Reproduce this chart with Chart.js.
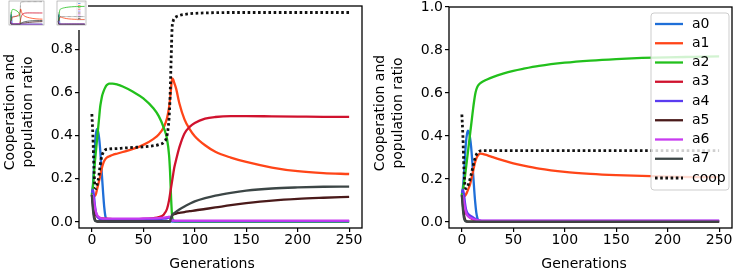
<!DOCTYPE html>
<html><head><meta charset="utf-8">
<script src="https://cdn.jsdelivr.net/npm/chart.js@4"></script>
<style>
html,body{margin:0;padding:0;background:#fff}
body{width:738px;height:272px;position:relative;overflow:hidden}
canvas{position:absolute;top:0}
#c1{left:0}
#c2{left:370px}
#t1{left:0;top:0;background:#fff}
#t2{left:50px;top:0;background:#fff}
</style></head><body>
<canvas id="c1" width="370" height="272"></canvas>
<canvas id="c2" width="368" height="272"></canvas>
<canvas id="t1" width="49" height="30"></canvas>
<canvas id="t2" width="38" height="30"></canvas>
<script>
const names = ['a0','a1','a2','a3','a4','a5','a6','a7','coop'];
const colors = ['#1f6fd8','#ff4518','#22c01c','#d0122e','#5a3cf0','#4a1a1a','#c83cf0','#3c4646','#111111'];
const xTicks = [0,50,100,150,200,250];
const yTicks = [0.0,0.2,0.4,0.6,0.8,1.0];
const xLabel = 'Generations';
const yLabel = ['Cooperation and','population ratio'];

// Left panel
const genL = [0,1,2,3,4,5,6,7,8,9,10,11,12,13,14,15,17,20,25,30,40,50,60,65,70,73,75,76,77,78,79,80,82,85,90,95,100,110,120,135,150,175,200,225,250];
const a0L = [0.125,0.17,0.25,0.35,0.41,0.43,0.42,0.39,0.34,0.27,0.20,0.13,0.07,0.03,0.01,0.004,0.003,0.003,0.003,0.003,0.003,0.003,0.003,0.003,0.003,0.003,0.003,0.003,0.003,0.002,0.002,0.002,0.002,0.002,0.002,0.002,0.002,0.002,0.002,0.002,0.002,0.002,0.002,0.002,0.002];
const a1L = [0.125,0.122,0.12,0.12,0.13,0.15,0.17,0.19,0.21,0.235,0.255,0.27,0.282,0.29,0.296,0.30,0.304,0.31,0.317,0.324,0.338,0.357,0.385,0.405,0.44,0.48,0.53,0.57,0.62,0.665,0.66,0.645,0.615,0.55,0.475,0.43,0.397,0.355,0.325,0.298,0.278,0.252,0.235,0.226,0.222];
const a2L = [0.125,0.16,0.22,0.28,0.33,0.38,0.43,0.48,0.53,0.56,0.585,0.60,0.613,0.623,0.631,0.636,0.641,0.641,0.636,0.627,0.603,0.572,0.525,0.49,0.435,0.385,0.31,0.23,0.11,0.025,0.008,0.004,0.003,0.002,0.002,0.002,0.002,0.002,0.002,0.002,0.002,0.002,0.002,0.002,0.002];
const a3L = [0.125,0.09,0.06,0.042,0.032,0.026,0.022,0.02,0.018,0.017,0.016,0.016,0.015,0.015,0.015,0.015,0.014,0.013,0.013,0.013,0.013,0.014,0.018,0.022,0.035,0.06,0.10,0.13,0.16,0.19,0.22,0.25,0.29,0.345,0.41,0.44,0.458,0.478,0.486,0.49,0.49,0.489,0.488,0.487,0.487];
const a4L = [0.135,0.15,0.125,0.075,0.045,0.028,0.02,0.016,0.013,0.012,0.011,0.011,0.01,0.01,0.01,0.01,0.01,0.01,0.01,0.01,0.01,0.011,0.012,0.013,0.015,0.017,0.02,0.02,0.015,0.01,0.007,0.005,0.004,0.004,0.004,0.004,0.004,0.004,0.004,0.004,0.004,0.004,0.004,0.004,0.004];
const a5L = [0.125,0.08,0.035,0.012,0.005,0.003,0.002,0.002,0.002,0.002,0.002,0.002,0.002,0.002,0.002,0.002,0.002,0.002,0.002,0.002,0.002,0.002,0.002,0.002,0.002,0.002,0.002,0.002,0.018,0.03,0.034,0.036,0.039,0.042,0.046,0.05,0.053,0.06,0.067,0.078,0.087,0.099,0.107,0.112,0.116];
const a6L = [0.125,0.12,0.095,0.065,0.045,0.033,0.026,0.022,0.019,0.017,0.016,0.015,0.015,0.015,0.015,0.015,0.015,0.015,0.015,0.015,0.015,0.016,0.017,0.018,0.02,0.022,0.024,0.02,0.012,0.007,0.006,0.006,0.006,0.006,0.006,0.006,0.006,0.006,0.006,0.006,0.006,0.006,0.006,0.006,0.006];
const a7L = [0.125,0.06,0.02,0.006,0.003,0.002,0.002,0.002,0.002,0.002,0.002,0.002,0.002,0.002,0.002,0.002,0.002,0.002,0.002,0.002,0.002,0.002,0.002,0.002,0.002,0.002,0.002,0.002,0.02,0.032,0.037,0.041,0.048,0.058,0.072,0.084,0.095,0.11,0.122,0.135,0.145,0.155,0.16,0.163,0.164];
const coopL = [0.50,0.40,0.25,0.165,0.155,0.17,0.19,0.22,0.26,0.29,0.31,0.322,0.33,0.334,0.336,0.337,0.338,0.339,0.34,0.342,0.345,0.348,0.353,0.358,0.37,0.40,0.48,0.58,0.75,0.90,0.93,0.942,0.95,0.956,0.961,0.964,0.966,0.968,0.969,0.97,0.97,0.97,0.97,0.97,0.97];

// Right panel
const genR = [0,1,2,3,4,5,6,7,8,9,10,11,12,13,14,15,16,17,18,20,25,30,40,50,60,75,100,125,150,175,200,225,250];
const a0R = [0.125,0.16,0.22,0.30,0.37,0.41,0.425,0.415,0.39,0.35,0.29,0.22,0.15,0.09,0.045,0.02,0.008,0.004,0.003,0.003,0.003,0.003,0.003,0.003,0.003,0.003,0.003,0.003,0.003,0.003,0.003,0.003,0.003];
const a1R = [0.125,0.122,0.12,0.122,0.128,0.138,0.15,0.162,0.176,0.195,0.215,0.238,0.26,0.28,0.295,0.305,0.312,0.316,0.318,0.317,0.31,0.302,0.287,0.273,0.262,0.248,0.233,0.224,0.218,0.214,0.211,0.209,0.208];
const a2R = [0.125,0.15,0.18,0.21,0.25,0.29,0.33,0.37,0.41,0.45,0.49,0.53,0.565,0.595,0.615,0.628,0.636,0.642,0.646,0.652,0.664,0.674,0.69,0.703,0.713,0.726,0.741,0.751,0.758,0.763,0.766,0.768,0.77];
const a3R = [0.125,0.1,0.07,0.05,0.04,0.035,0.03,0.025,0.021,0.017,0.014,0.012,0.01,0.008,0.007,0.006,0.005,0.005,0.004,0.003,0.003,0.003,0.003,0.003,0.003,0.003,0.003,0.003,0.003,0.003,0.003,0.003,0.003];
const a4R = [0.135,0.15,0.13,0.09,0.06,0.045,0.038,0.033,0.03,0.027,0.024,0.021,0.018,0.015,0.012,0.01,0.008,0.007,0.006,0.005,0.005,0.005,0.005,0.005,0.005,0.005,0.005,0.005,0.005,0.005,0.005,0.005,0.005];
const a5R = [0.125,0.08,0.035,0.012,0.005,0.003,0.002,0.002,0.002,0.002,0.002,0.002,0.002,0.002,0.002,0.002,0.002,0.002,0.002,0.002,0.002,0.002,0.002,0.002,0.002,0.002,0.002,0.002,0.002,0.002,0.002,0.002,0.002];
const a6R = [0.125,0.12,0.095,0.065,0.045,0.033,0.027,0.023,0.02,0.018,0.016,0.014,0.012,0.011,0.01,0.009,0.008,0.007,0.007,0.006,0.006,0.006,0.006,0.006,0.006,0.006,0.006,0.006,0.006,0.006,0.006,0.006,0.006];
const a7R = [0.125,0.06,0.02,0.006,0.003,0.002,0.002,0.002,0.002,0.002,0.002,0.002,0.002,0.002,0.002,0.002,0.002,0.002,0.002,0.002,0.002,0.002,0.002,0.002,0.002,0.002,0.002,0.002,0.002,0.002,0.002,0.002,0.002];
const coopR = [0.50,0.40,0.25,0.17,0.155,0.16,0.17,0.185,0.2,0.22,0.24,0.262,0.283,0.3,0.312,0.32,0.326,0.329,0.331,0.332,0.332,0.332,0.332,0.332,0.332,0.332,0.332,0.332,0.332,0.332,0.332,0.332,0.332];

const seriesL = [a0L,a1L,a2L,a3L,a4L,a5L,a6L,a7L,coopL];
const seriesR = [a0R,a1R,a2R,a3R,a4R,a5R,a6R,a7R,coopR];

const FONT = 'DejaVu Sans';

function makeDatasets(gens, series, lw, dotW, dash) {
  return series.map((vals, i) => ({
    label: names[i],
    data: gens.map((g, j) => ({x: g, y: vals[j]})),
    borderColor: colors[i],
    borderWidth: i === 8 ? dotW : lw,
    borderDash: i === 8 ? dash : [],
    borderCapStyle: 'butt',
    pointRadius: 0,
    fill: false,
    cubicInterpolationMode: 'monotone',
    order: 9 - i
  }));
}

const framePlugin = {
  id: 'frame',
  afterDatasetsDraw(chart, args, opts) {
    const {ctx, chartArea: a} = chart;
    ctx.save();
    ctx.strokeStyle = opts.color || '#000';
    ctx.lineWidth = opts.width || 1.2;
    ctx.strokeRect(a.left, a.top, a.right - a.left, a.bottom - a.top);
    ctx.restore();
  }
};

const titlesPlugin = {
  id: 'titles',
  afterDraw(chart, args, opts) {
    if (!opts.show) return;
    const ctx = chart.ctx;
    ctx.save();
    ctx.fillStyle = '#000';
    ctx.font = '14px "' + FONT + '"';
    ctx.textAlign = 'center';
    ctx.textBaseline = 'middle';
    ctx.fillText(xLabel, opts.xCx, opts.xCy);
    yLabel.forEach((line, k) => {
      ctx.save();
      ctx.translate(opts.yX[k], opts.yCy);
      ctx.rotate(-Math.PI / 2);
      ctx.fillText(line, 0, 0);
      ctx.restore();
    });
    ctx.restore();
  }
};

const boxLegend = {
  id: 'boxLegend',
  afterDraw(chart, args, opts) {
    if (!opts.show) return;
    const ctx = chart.ctx;
    const x0 = opts.x, y0 = opts.y, w = opts.w, h = opts.h, r = 3;
    ctx.save();
    ctx.beginPath();
    ctx.moveTo(x0 + r, y0);
    ctx.lineTo(x0 + w - r, y0); ctx.arcTo(x0 + w, y0, x0 + w, y0 + r, r);
    ctx.lineTo(x0 + w, y0 + h - r); ctx.arcTo(x0 + w, y0 + h, x0 + w - r, y0 + h, r);
    ctx.lineTo(x0 + r, y0 + h); ctx.arcTo(x0, y0 + h, x0, y0 + h - r, r);
    ctx.lineTo(x0, y0 + r); ctx.arcTo(x0, y0, x0 + r, y0, r);
    ctx.closePath();
    ctx.fillStyle = 'rgba(255,255,255,0.8)';
    ctx.fill();
    ctx.strokeStyle = 'rgba(200,200,200,0.9)';
    ctx.lineWidth = 1;
    ctx.stroke();
    chart.data.datasets.forEach((ds, i) => {
      const cy = opts.firstY + i * opts.step;
      ctx.beginPath();
      ctx.strokeStyle = ds.borderColor;
      ctx.lineWidth = ds.borderWidth;
      ctx.setLineDash(ds.borderDash || []);
      ctx.lineCap = 'butt';
      ctx.moveTo(opts.lineX0, cy);
      ctx.lineTo(opts.lineX1, cy);
      ctx.stroke();
      ctx.setLineDash([]);
      ctx.fillStyle = '#000';
      ctx.font = '14px "' + FONT + '"';
      ctx.textBaseline = 'middle';
      ctx.textAlign = 'left';
      ctx.fillText(ds.label, opts.textX, cy);
    });
    ctx.restore();
  }
};

function mainChart(id, gens, series, pad, titleOpts, legendOpts) {
  return new Chart(document.getElementById(id), {
    type: 'line',
    data: {datasets: makeDatasets(gens, series, 2.3, 2.8, [2.6, 2.6])},
    options: {
      responsive: false, animation: false, devicePixelRatio: 1,
      layout: {padding: pad},
      plugins: {
        legend: {display: false}, tooltip: {enabled: false},
        frame: {color: '#000', width: 1.3},
        titles: titleOpts,
        boxLegend: legendOpts
      },
      scales: {
        x: {
          type: 'linear', min: -12.5, max: 262.5,
          afterBuildTicks: s => { s.ticks = xTicks.map(v => ({value: v})); },
          grid: {display: true, drawOnChartArea: false, drawTicks: true, tickLength: 4, color: '#000', lineWidth: 1.2},
          border: {display: false},
          ticks: {color: '#000', font: {family: FONT, size: 14}, padding: 0, maxRotation: 0, autoSkip: false, callback: v => String(v)},
          title: {display: false},
          afterFit: s => { s.height = 44; s.paddingLeft = 0; s.paddingRight = 0; }
        },
        y: {
          type: 'linear', min: -0.028, max: 1.0,
          afterBuildTicks: s => { s.ticks = yTicks.map(v => ({value: v})); },
          grid: {display: true, drawOnChartArea: false, drawTicks: true, tickLength: 4, color: '#000', lineWidth: 1.2},
          border: {display: false},
          ticks: {color: '#000', font: {family: FONT, size: 14}, padding: 2, autoSkip: false, callback: v => Number(v).toFixed(1)},
          title: {display: false},
          afterFit: s => { s.width = 79; s.paddingTop = 0; s.paddingBottom = 0; }
        }
      }
    },
    plugins: [framePlugin, titlesPlugin, boxLegend]
  });
}

mainChart('c1', genL, seriesL, {left: 0, right: 8, top: 6, bottom: 0},
  {show: true, xCx: 212, xCy: 264, yX: [10.5, 28.5], yCy: 112}, {show: false});
mainChart('c2', genR, seriesR, {left: 0, right: 6, top: 7, bottom: 0},
  {show: true, xCx: 214, xCy: 264, yX: [10.5, 28.5], yCy: 113},
  {show: true, x: 281, y: 13, w: 78, h: 177, firstY: 24, step: 19.25, lineX0: 285, lineX1: 313, textX: 322});

function thumb(id, gens, series, pad, withLegend) {
  const legendMini = {
    id: 'legendMini',
    afterDraw(chart) {
      if (!withLegend) return;
      const ctx = chart.ctx, a = chart.chartArea;
      ctx.save();
      ctx.strokeStyle = 'rgba(190,190,190,0.8)'; ctx.lineWidth = 0.5;
      ctx.strokeRect(a.right - 9, a.top + 1, 8, 18);
      chart.data.datasets.forEach((ds, i) => {
        ctx.strokeStyle = ds.borderColor; ctx.lineWidth = 0.6;
        ctx.beginPath();
        ctx.moveTo(a.right - 8, a.top + 2.5 + i * 1.9);
        ctx.lineTo(a.right - 5.5, a.top + 2.5 + i * 1.9);
        ctx.stroke();
      });
      ctx.restore();
    }
  };
  return new Chart(document.getElementById(id), {
    type: 'line',
    data: {datasets: makeDatasets(gens, series, 0.8, 0.6, [0.6, 0.6])},
    options: {
      responsive: false, animation: false, devicePixelRatio: 1,
      layout: {padding: pad},
      plugins: {legend: {display: false}, tooltip: {enabled: false}, frame: {color: '#999', width: 0.6}},
      scales: {
        x: {type: 'linear', min: -12.5, max: 262.5, display: false},
        y: {type: 'linear', min: -0.028, max: 1.0, display: false}
      }
    },
    plugins: [framePlugin, legendMini]
  });
}
thumb('t1', genL, seriesL, {left: 9, right: 5, top: 1, bottom: 5}, false);
thumb('t2', genR, seriesR, {left: 7, right: 2, top: 1, bottom: 5}, true);
</script>
</body></html>
